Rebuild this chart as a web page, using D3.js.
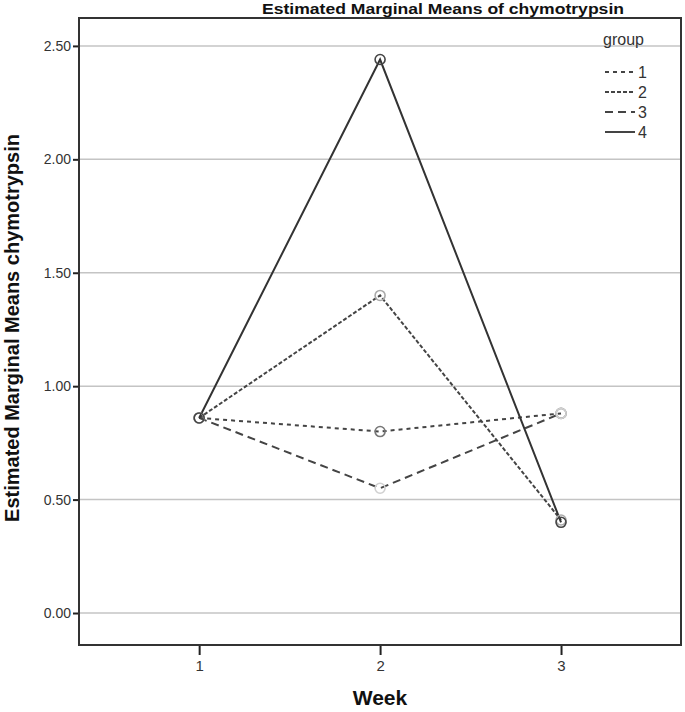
<!DOCTYPE html>
<html>
<head>
<meta charset="utf-8">
<script src="https://cdn.jsdelivr.net/npm/d3@7"></script>
<style>
  body { margin: 0; background: #fff; }
  svg { display: block; font-family: Arial, "Liberation Sans", sans-serif; }
</style>
</head>
<body>
<svg width="685" height="712"></svg>
<script>
// data
var weeks = [1, 2, 3];
var groups = ["1", "2", "3", "4"];
var group1 = [0.86, 0.80, 0.88];
var group2 = [0.86, 1.40, 0.41];
var group3 = [0.86, 0.55, 0.88];
var group4 = [0.86, 2.44, 0.40];
var yTicks = [0, 0.5, 1, 1.5, 2, 2.5];

var series = [
  { key: "1", values: group1, dash: "4,4",  marker: "#777" },
  { key: "2", values: group2, dash: "4,2",  marker: "#aaa" },
  { key: "3", values: group3, dash: "8,5",  marker: "#d0d0d0" },
  { key: "4", values: group4, dash: null,   marker: "#444" }
];

var margin = { top: 18, right: 4, bottom: 67, left: 79 },
    width = 685 - margin.left - margin.right,
    height = 712 - margin.top - margin.bottom;

var svg = d3.select("svg");
var g = svg.append("g")
    .attr("transform", "translate(" + margin.left + "," + margin.top + ")");

var x = d3.scaleLinear().domain([0.336, 3.663]).range([0, width]);
var y = d3.scaleLinear().domain([-0.141, 2.623]).range([height, 0]);

// grid lines
g.append("g")
  .selectAll("line")
  .data(yTicks)
  .enter().append("line")
    .attr("x1", 0)
    .attr("x2", width)
    .attr("y1", function(d) { return y(d); })
    .attr("y2", function(d) { return y(d); })
    .attr("stroke", "#c4c4c4")
    .attr("stroke-width", 1.5);

// y axis
var yAxis = g.append("g")
    .call(d3.axisLeft(y).tickValues(yTicks).tickFormat(d3.format(".2f")).tickSize(6).tickPadding(2));
yAxis.attr("font-family", "Arial, 'Liberation Sans', sans-serif").attr("font-size", 14);
yAxis.select(".domain").remove();
yAxis.selectAll(".tick line").attr("stroke", "#222").attr("stroke-width", 2);
yAxis.selectAll("text").style("font-size", "14px").attr("fill", "#333");

// x axis
var xAxis = g.append("g")
    .attr("transform", "translate(0," + height + ")")
    .call(d3.axisBottom(x).tickValues(weeks).tickFormat(d3.format("d")).tickSize(10).tickPadding(5));
xAxis.attr("font-family", "Arial, 'Liberation Sans', sans-serif").attr("font-size", 15);
xAxis.select(".domain").remove();
xAxis.selectAll(".tick line").attr("stroke", "#222").attr("stroke-width", 2);
xAxis.selectAll("text").style("font-size", "15px").attr("fill", "#333");

// frame
g.append("rect")
    .attr("x", 0).attr("y", 0)
    .attr("width", width).attr("height", height)
    .attr("fill", "none")
    .attr("stroke", "#333")
    .attr("stroke-width", 2);

var line = d3.line()
    .x(function(d, i) { return x(weeks[i]); })
    .y(function(d) { return y(d); });

// lines
g.append("g")
  .selectAll("path")
  .data(series)
  .enter().append("path")
    .attr("d", function(d) { return line(d.values); })
    .attr("fill", "none")
    .attr("stroke", function(d) { return d.dash ? "#444" : "#333"; })
    .attr("stroke-width", 2)
    .attr("stroke-dasharray", function(d) { return d.dash; });

// markers
series.forEach(function(s) {
  g.append("g")
    .selectAll("circle")
    .data(s.values)
    .enter().append("circle")
      .attr("cx", function(d, i) { return x(weeks[i]); })
      .attr("cy", function(d) { return y(d); })
      .attr("r", 5)
      .attr("fill", "none")
      .attr("stroke", s.marker)
      .attr("stroke-width", 1.6);
});

// legend
var legend = g.append("g").attr("transform", "translate(" + (605 - margin.left) + "," + (72 - margin.top) + ")");
legend.append("text")
    .attr("x", -2).attr("y", -27)
    .attr("font-size", "16px")
    .attr("fill", "#333")
    .text("group");
var items = legend.selectAll(".item")
    .data(series)
  .enter().append("g")
    .attr("class", "item")
    .attr("transform", function(d, i) { return "translate(0," + (i * 20) + ")"; });
items.append("line")
    .attr("x1", 0).attr("x2", 30)
    .attr("stroke", "#444")
    .attr("stroke-width", 2)
    .attr("stroke-dasharray", function(d) { return d.dash; });
items.append("text")
    .attr("x", 33).attr("y", 6)
    .attr("font-size", "16px")
    .attr("fill", "#333")
    .text(function(d) { return d.key; });

// titles
svg.append("text")
    .attr("x", 443).attr("y", 14)
    .attr("text-anchor", "middle")
    .attr("font-size", "15px")
    .attr("font-weight", "bold")
    .attr("textLength", 362)
    .attr("lengthAdjust", "spacingAndGlyphs")
    .attr("fill", "#111")
    .text("Estimated Marginal Means of chymotrypsin");

svg.append("text")
    .attr("transform", "translate(19," + 328 + ") rotate(-90)")
    .attr("text-anchor", "middle")
    .attr("font-size", "20px")
    .attr("font-weight", "bold")
    .attr("fill", "#111")
    .text("Estimated Marginal Means chymotrypsin");

svg.append("text")
    .attr("x", 380).attr("y", 705)
    .attr("text-anchor", "middle")
    .attr("font-size", "21px")
    .attr("font-weight", "bold")
    .attr("fill", "#111")
    .text("Week");
</script>
</body>
</html>
